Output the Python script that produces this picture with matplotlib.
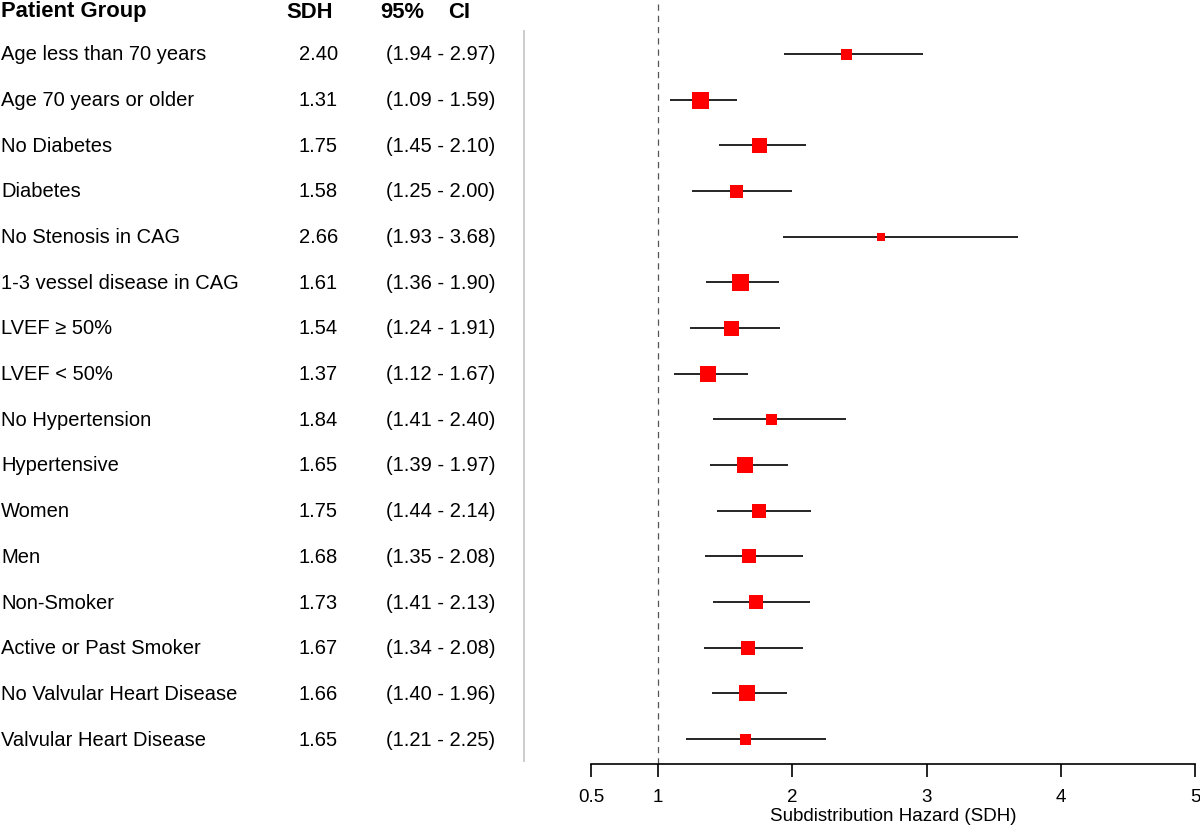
import matplotlib
matplotlib.use("Agg")
import matplotlib.pyplot as plt
import matplotlib.transforms as mtransforms

plt.rcParams['font.family'] = ['Liberation Sans', 'DejaVu Sans']

groups = ["Age less than 70 years", "Age 70 years or older", "No Diabetes", "Diabetes",
          "No Stenosis in CAG", "1-3 vessel disease in CAG", "LVEF \u2265 50%", "LVEF < 50%",
          "No Hypertension", "Hypertensive", "Women", "Men", "Non-Smoker",
          "Active or Past Smoker", "No Valvular Heart Disease", "Valvular Heart Disease"]
sdh = [2.40, 1.31, 1.75, 1.58, 2.66, 1.61, 1.54, 1.37, 1.84, 1.65, 1.75, 1.68, 1.73, 1.67, 1.66, 1.65]
ci_low = [1.94, 1.09, 1.45, 1.25, 1.93, 1.36, 1.24, 1.12, 1.41, 1.39, 1.44, 1.35, 1.41, 1.34, 1.40, 1.21]
ci_high = [2.97, 1.59, 2.10, 2.00, 3.68, 1.90, 1.91, 1.67, 2.40, 1.97, 2.14, 2.08, 2.13, 2.08, 1.96, 2.25]
weights = [11, 17, 15, 13, 8, 17, 15, 16, 11, 16, 14, 14, 14, 14, 16, 11]  # box size (relative weight)
xticks = [0.5, 1, 2, 3, 4, 5]
xlabel = "Subdistribution Hazard (SDH)"
headers = ["Patient Group", "SDH", "95%", "CI"]

W, H = 1200, 828
fig = plt.figure(figsize=(12, 8.28), dpi=100)
ax_left, ax_right = 591 / W, 1195 / W
ax_bottom = (H - 765) / H
ax = fig.add_axes([ax_left, ax_bottom, ax_right - ax_left, 1 - ax_bottom])

n = len(groups)
rows = list(range(1, n + 1))
row_px = (740 - 54) / (n - 1)
top = 1 - 55 / row_px
bot = n + 25 / row_px
ax.set_ylim(bot, top)
ax.set_xlim(0.5, 5)

for y, m, lo, hi, w in zip(rows, sdh, ci_low, ci_high, weights):
    ax.plot([lo, hi], [y, y], color='black', lw=1.2, solid_capstyle='butt', zorder=2)
    ax.plot([m], [y], marker='s', ms=w * 0.72, color='#ff0000', mec='#ff0000', mew=0, zorder=3)

ax.axvline(1, color='#555555', lw=0.9, ls=(0, (5, 4)), zorder=1)

for s in ['top', 'right', 'left']:
    ax.spines[s].set_visible(False)
ax.spines['bottom'].set_linewidth(1.2)
ax.set_yticks([])
ax.set_xticks(xticks)
ax.set_xticklabels([f"{t:g}" for t in xticks], fontsize=13.5)
ax.tick_params(axis='x', length=9, width=1.2, pad=8)
ax.set_xlabel(xlabel, fontsize=13.5, labelpad=2)
ax.patch.set_alpha(0)

trans = mtransforms.blended_transform_factory(fig.transFigure, ax.transData)
fs = 14.5
for y, g, m, lo, hi in zip(rows, groups, sdh, ci_low, ci_high):
    fig.text(1 / W, y, g, transform=trans, fontsize=fs, ha='left', va='center')
    fig.text(338 / W, y, f"{m:.2f}", transform=trans, fontsize=fs, ha='right', va='center')
    fig.text(386 / W, y, f"({lo:.2f} - {hi:.2f})", transform=trans, fontsize=fs, ha='left', va='center')

hy = 1 - 12 / H
hfs = 15.8
fig.text(1 / W, hy, headers[0], fontsize=hfs, fontweight='bold', ha='left', va='center')
fig.text(286 / W, hy, headers[1], fontsize=hfs, fontweight='bold', ha='left', va='center')
fig.text(380 / W, hy, headers[2], fontsize=hfs, fontweight='bold', ha='left', va='center')
fig.text(448 / W, hy, headers[3], fontsize=hfs, fontweight='bold', ha='left', va='center')

fig.add_artist(plt.Line2D([524 / W, 524 / W], [1 - 32 / H, 1 - 762 / H],
                          transform=fig.transFigure, color='#c8c8c8', lw=1.3))

fig.savefig("out.png", dpi=100)
